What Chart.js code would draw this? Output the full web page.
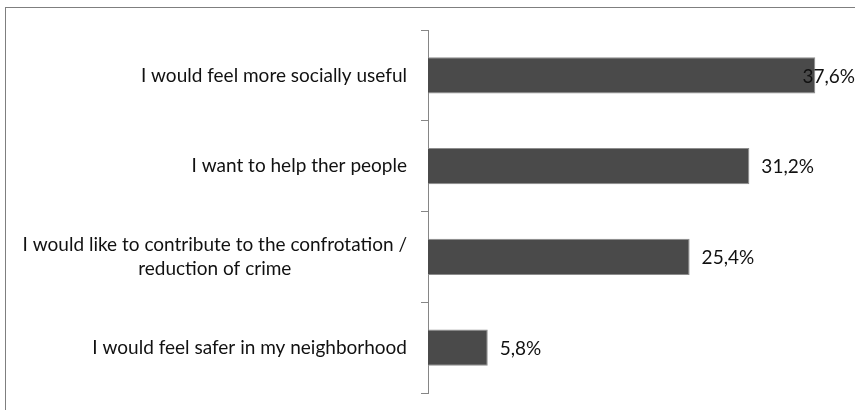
<!DOCTYPE html>
<html>
<head>
<meta charset="utf-8">
<script src="https://cdn.jsdelivr.net/npm/chart.js@4.4.0/dist/chart.umd.min.js"></script>
<style>
  body { margin: 0; background: #fff; }
  #wrap { position: relative; width: 855px; height: 410px; }
  #frame { position: absolute; left: 5px; top: 7px; width: 860px; height: 410px;
           border-top: 1px solid #7f7f7f; border-left: 1px solid #7f7f7f; }
  canvas { position: absolute; left: 0; top: 0; }
</style>
</head>
<body>
<div id="wrap">
  <div id="frame"></div>
  <canvas id="wykres" width="855" height="410"></canvas>
</div>
<script>
var kategorie = [
  ['I would feel more socially useful'],
  ['I want to help ther people'],
  ['I would like to contribute to the confrotation /', 'reduction of crime'],
  ['I would feel safer in my neighborhood']
];
var wartosci = [37.6, 31.2, 25.4, 5.8];
var osX = { min: 0, max: 40 };

var czcionka = '19px Lato, "Open Sans", sans-serif';

function formatuj(v) {
  return v.toFixed(1).replace('.', ',') + '%';
}

// etykiety kategorii i wartosci rysowane recznie
var etykiety = {
  id: 'etykiety',
  afterDraw: function(chart) {
    var ctx = chart.ctx;
    var y = chart.scales.y;
    var meta = chart.getDatasetMeta(0);
    ctx.save();
    ctx.font = czcionka;
    ctx.fillStyle = '#111';
    ctx.textBaseline = 'middle';
    kategorie.forEach(function(linie, i) {
      var sr = y.getPixelForValue(i);
      var szer = 0;
      linie.forEach(function(l) { szer = Math.max(szer, ctx.measureText(l).width); });
      var cx = y.right - 21 - szer / 2;
      var lh = 24;
      var start = sr - (linie.length - 1) * lh / 2;
      ctx.textAlign = 'center';
      linie.forEach(function(l, j) {
        ctx.fillText(l, cx, start + j * lh);
      });
    });
    ctx.textAlign = 'left';
    meta.data.forEach(function(bar, i) {
      var t = formatuj(wartosci[i]);
      var w = ctx.measureText(t).width;
      var x = bar.x + 12;
      if (x + w > chart.width) x = chart.width - w;
      ctx.fillText(t, x, bar.y + 1);
    });
    ctx.restore();
  }
};

var barGraph = new Chart(document.getElementById('wykres'), {
  type: 'bar',
  data: {
    labels: kategorie,
    datasets: [{
      data: wartosci,
      backgroundColor: '#4a4a4a',
      borderColor: '#8c8c8c',
      borderWidth: 1,
      barPercentage: 0.4,
      categoryPercentage: 1.0
    }]
  },
  options: {
    indexAxis: 'y',
    responsive: false,
    animation: false,
    layout: { padding: { top: 30, bottom: 17, right: 15, left: 0 } },
    plugins: { legend: { display: false }, tooltip: { enabled: false } },
    scales: {
      x: { display: false, min: osX.min, max: osX.max },
      y: {
        afterFit: function(s) { s.width = 428; },
        ticks: { display: false },
        border: { color: '#868686', width: 1 },
        grid: { offset: true, drawOnChartArea: false, drawTicks: true, tickLength: 7, color: '#868686' }
      }
    }
  },
  plugins: [etykiety]
});
</script>
</body>
</html>
